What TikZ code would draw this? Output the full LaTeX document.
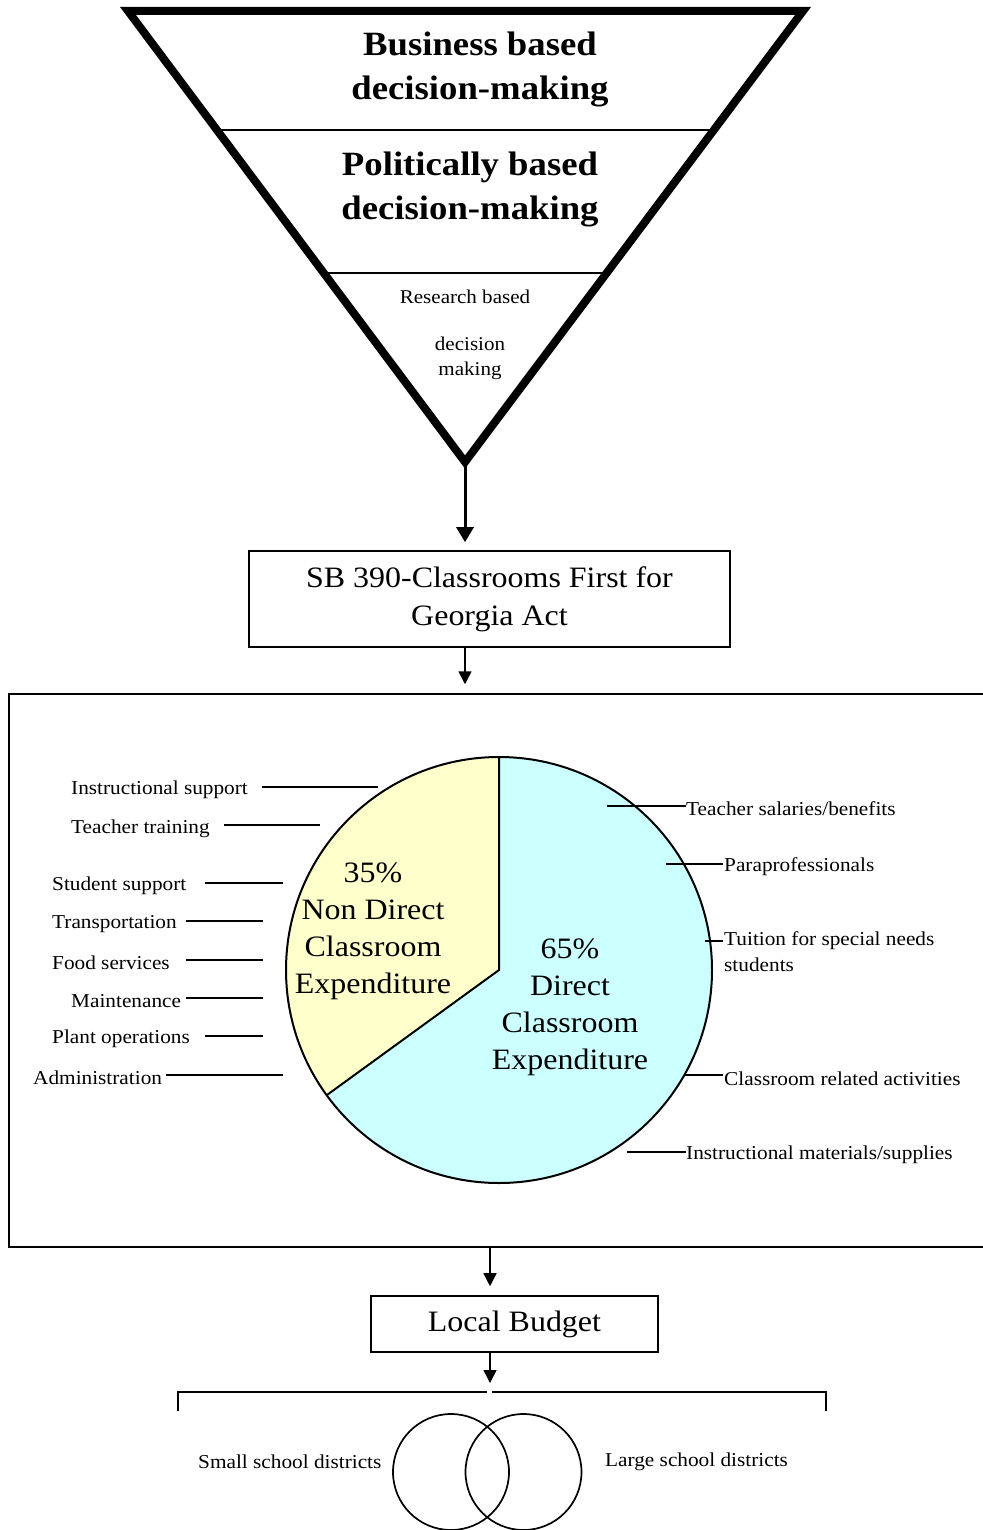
\documentclass[tikz,border=0pt]{standalone}
\usepackage{fontspec}
\setmainfont{Liberation Serif}[FakeStretch=1.08]
\usetikzlibrary{arrows.meta,calc}
\definecolor{pieyellow}{HTML}{FFFFCC}
\definecolor{piecyan}{HTML}{CCFFFF}
\newcommand{\myfs}[2]{\fontsize{#1}{#2}\selectfont}
\begin{document}
\begin{tikzpicture}[x=1pt,y=1pt,
  tri/.style={line width=8pt, line join=miter},
  divider/.style={line width=1.5pt},
  boxnode/.style={draw, line width=1.6pt, inner sep=0pt, align=center},
  bigarrow/.style={line width=3pt, shorten >=8pt, -{Triangle[length=15pt,width=17pt]}},
  smallarrow/.style={line width=1.5pt, shorten >=9pt, -{Triangle[length=13pt,width=13pt]}},
  leader/.style={line width=1.5pt},
  lbl/.style={inner sep=0pt, font=\myfs{19.7}{26}},
  pietext/.style={inner sep=0pt, align=center, font=\myfs{29.6}{37}},
  headtext/.style={inner sep=0pt, align=center, font=\bfseries\myfs{34}{44}},
  smalltext/.style={inner sep=0pt, align=center, font=\myfs{19.5}{25}},
]
\useasboundingbox (0,0) rectangle (982,-1530);

% ---------- inverted triangle ----------
\coordinate (A) at (128,-11);
\coordinate (B) at (803,-11);
\coordinate (C) at (465,-462);
\draw[tri] (A) -- (B) -- (C) -- cycle;
\draw[divider] ($(A)!0.264!(C)$) -- ($(B)!0.264!(C)$);
\draw[divider] ($(A)!0.581!(C)$) -- ($(B)!0.581!(C)$);
\node[headtext] (business) at (480,-69) {Business based\\decision-making};
\node[headtext] (political) at (470,-189) {Politically based\\decision-making};
\node[smalltext] (research) at (465,-297) {Research based};
\node[smalltext] (decmaking) at (470,-358) {decision\\making};

% ---------- SB 390 box ----------
\node[boxnode, minimum width=481pt, minimum height=96pt, font=\myfs{29.6}{38}] (sb) at (489.5,-599)
  {SB 390-Classrooms First for\\Georgia Act};
\draw[bigarrow] (C) -- (C |- sb.north);

% ---------- pie panel ----------
\node[draw, line width=1.5pt, inner sep=0pt, minimum width=990pt, minimum height=553pt] (panel) at (504,-970.5) {};
\draw[smallarrow] (C |- sb.south) -- (C |- panel.north);

\coordinate (P) at (499,-970);
\fill[pieyellow] (P) -- ++(90:213) arc[start angle=90, end angle=216, radius=213] -- cycle;
\fill[piecyan] (P) -- ++(216:213) arc[start angle=216, end angle=450, radius=213] -- cycle;
\draw[line width=2pt] (P) circle[radius=213];
\draw[line width=2pt, line join=miter] ($(P)+(90:213)$) -- (P) -- ($(P)+(216:213)$);

\node[pietext] (nondirect) at (373,-931) {35\%\\Non Direct\\Classroom\\Expenditure};
\node[pietext] (direct) at (570,-1007) {65\%\\Direct\\Classroom\\Expenditure};

% left labels
\node[lbl, anchor=west] (l1) at (71,-790) {Instructional support};
\node[lbl, anchor=west] (l2) at (71,-829) {Teacher training};
\node[lbl, anchor=west] (l3) at (52,-886) {Student support};
\node[lbl, anchor=west] (l4) at (52,-924) {Transportation};
\node[lbl, anchor=west] (l5) at (52,-963) {Food services};
\node[lbl, anchor=west] (l6) at (71,-1001) {Maintenance};
\node[lbl, anchor=west] (l7) at (52,-1039) {Plant operations};
\node[lbl, anchor=west] (l8) at (33,-1078) {Administration};
\draw[leader] (262,-787) -- (378,-787);
\draw[leader] (224,-825) -- (320,-825);
\draw[leader] (205,-883) -- (283,-883);
\draw[leader] (186,-921) -- (263,-921);
\draw[leader] (186,-960) -- (263,-960);
\draw[leader] (186,-998) -- (263,-998);
\draw[leader] (205,-1036) -- (263,-1036);
\draw[leader] (166,-1075) -- (283,-1075);

% right labels
\coordinate (r1) at (686,-806);
\coordinate (r2) at (723,-864);
\coordinate (r3) at (723,-941);
\coordinate (r4) at (723,-1075);
\coordinate (r5) at (686,-1152);
\draw[leader] (607,-806) -- (r1);
\draw[leader] (666,-864) -- (r2);
\draw[leader] (705,-941) -- (r3);
\draw[leader] (685,-1075) -- (r4);
\draw[leader] (627,-1152) -- (r5);
\node[lbl, anchor=west] (t1) at ($(r1)+(0,-3)$) {Teacher salaries/benefits};
\node[lbl, anchor=west] (t2) at ($(r2)+(1,-3)$) {Paraprofessionals};
\node[lbl, anchor=north west, align=left] (t3) at ($(r3)+(1,10)$) {Tuition for special needs\\students};
\node[lbl, anchor=west] (t4) at ($(r4)+(1,-4)$) {Classroom related activities};
\node[lbl, anchor=west] (t5) at ($(r5)+(0,-3)$) {Instructional materials/supplies};

% ---------- local budget ----------
\node[boxnode, minimum width=287pt, minimum height=56pt, font=\myfs{29.6}{36}] (lb) at (514.5,-1324) {Local Budget};
\coordinate (ax) at (490,-1247);
\draw[smallarrow] (ax) -- (ax |- lb.north);

% bracket
\coordinate (brL) at (178,-1411);
\coordinate (brR) at (826,-1411);
\coordinate (gapL) at (487,-1392);
\coordinate (gapR) at (492,-1392);
\coordinate (gap) at (490,-1392);
\draw[line width=1.5pt] (brL) -- (brL |- gapL) -- (gapL);
\draw[line width=1.5pt] (gapR) -- (brR |- gapR) -- (brR);
\draw[smallarrow] (ax |- lb.south) -- (gap);

% circles
\node[draw, circle, line width=1.7pt, minimum size=116pt, inner sep=0pt] (small) at (451,-1472) {};
\node[draw, circle, line width=1.7pt, minimum size=116pt, inner sep=0pt] (large) at (523.5,-1472) {};
\node[lbl, anchor=west] (smalltxt) at (198,-1462) {Small school districts};
\node[lbl, anchor=west] (largetxt) at (605,-1462) {Large school districts};
\end{tikzpicture}
\end{document}
